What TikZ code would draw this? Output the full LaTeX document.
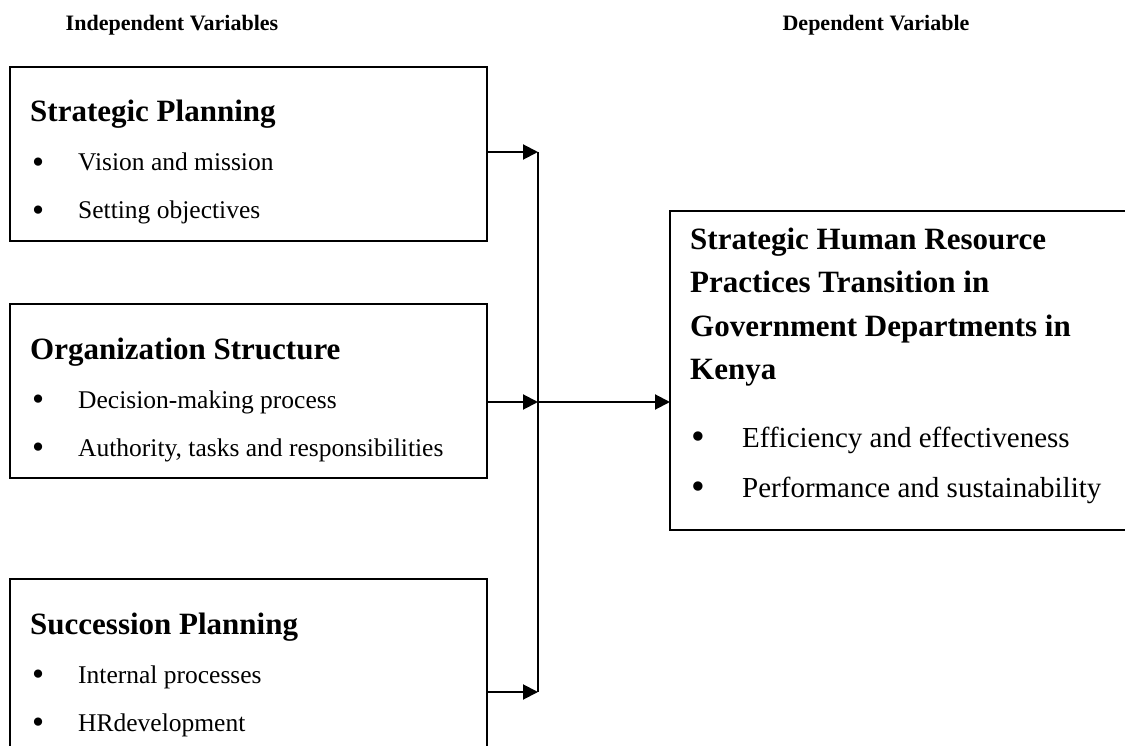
\documentclass[tikz,border=0pt]{standalone}
\usepackage{fontspec}
\usepackage{graphicx}
\setmainfont{Liberation Serif}
\usetikzlibrary{positioning,arrows.meta}

\tikzset{
  varbox/.style={draw, line width=1.4pt, minimum width=477pt, minimum height=174pt,
    anchor=north west, inner sep=0pt, outer sep=0pt},
  head/.style={font=\fontsize{22}{27}\selectfont\bfseries},
  title/.style={font=\fontsize{31}{37}\selectfont\bfseries, inner sep=0pt, anchor=base west},
  item/.style={font=\fontsize{25.5}{30}\selectfont, inner sep=0pt, anchor=base west},
  bigitem/.style={font=\fontsize{29}{34}\selectfont, inner sep=0pt, anchor=base west},
  flow/.style={line width=2pt, -{Triangle[length=15pt,width=15pt]}},
}
\newcommand{\bul}[2][46pt]{\makebox[#1][l]{\raisebox{-0.1em}{\scalebox{1.35}{\textbullet}}}#2}

\begin{document}
\begin{tikzpicture}[x=1pt,y=1pt]
    \useasboundingbox (0,0) rectangle (1125,-746);
    % headings
    \node[head] (indep) at (172,-25) {Independent Variables};
    \node[head] (dep) at (876,-25) {Dependent Variable};
    % independent variables
    \node[varbox] (plan) at (10,-67) {};
    \node[varbox, below=63pt of plan.south west, anchor=north west] (struct) {};
    \node[varbox, below=101pt of struct.south west, anchor=north west, minimum height=220pt] (succ) {};
    \node[below right=55pt and 20pt of plan.north west, title] (plant) {Strategic Planning};
    \node[below right=104pt and 22pt of plan.north west, item] (plana) {\bul{Vision and mission}};
    \node[below right=152pt and 22pt of plan.north west, item] (planb) {\bul{Setting objectives}};
    \node[below right=55pt and 20pt of struct.north west, title] (structt) {Organization Structure};
    \node[below right=104pt and 22pt of struct.north west, item] (structa) {\bul{Decision-making process}};
    \node[below right=152pt and 22pt of struct.north west, item] (structb) {\bul{Authority, tasks and responsibilities}};
    \node[below right=55pt and 20pt of succ.north west, title] (succt) {Succession Planning};
    \node[below right=104pt and 22pt of succ.north west, item] (succa) {\bul{Internal processes}};
    \node[below right=152pt and 22pt of succ.north west, item] (succb) {\bul{HRdevelopment}};
    % dependent variable
    \node[varbox, minimum width=470pt, minimum height=319pt] (trans) at (670,-211) {};
    \node[below right=39pt and 20pt of trans.north west, title] (transt1) {Strategic Human Resource};
    \node[below=43pt of transt1.base west, title] (transt2) {Practices Transition in};
    \node[below=43pt of transt2.base west, title] (transt3) {Government Departments in};
    \node[below=43pt of transt3.base west, title] (transt4) {Kenya};
    \node[below right=236pt and 21pt of trans.north west, bigitem] (transa) {\bul[51pt]{Efficiency and effectiveness}};
    \node[below right=286pt and 21pt of trans.north west, bigitem] (transb) {\bul[51pt]{Performance and sustainability}};
    % connectors
    \coordinate (j1) at (538,-152);
    \coordinate (j2) at (538,-402);
    \coordinate (j3) at (538,-692);
    \draw[line width=2pt] (j1) -- (j3);
    \draw[flow] (plan.east |- j1) -- (j1);
    \draw[flow] (struct.east |- j2) -- (j2);
    \draw[flow] (succ.east |- j3) -- (j3);
    \draw[flow] (j2) -- (trans.west |- j2);
\end{tikzpicture}
\end{document}
